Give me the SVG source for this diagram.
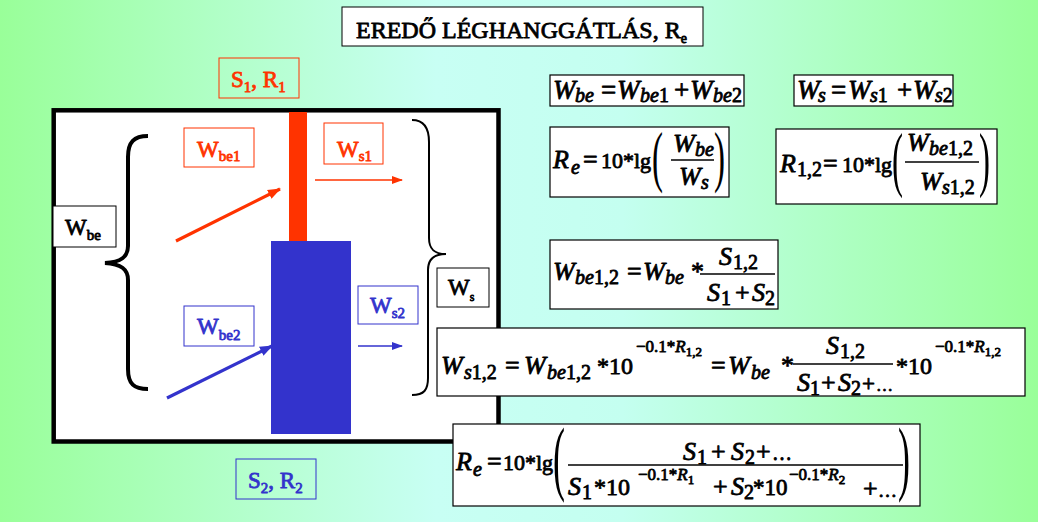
<svg xmlns="http://www.w3.org/2000/svg" width="1038" height="522" viewBox="0 0 1038 522">
<defs>
<linearGradient id="bg" x1="0" y1="0" x2="1" y2="0">
<stop offset="0" stop-color="#99ff99"/>
<stop offset="0.42" stop-color="#c8fff4"/>
<stop offset="0.6" stop-color="#c4fff0"/>
<stop offset="1" stop-color="#99ff99"/>
</linearGradient>
<marker id="ahR" markerUnits="userSpaceOnUse" markerWidth="14" markerHeight="12" refX="12" refY="5" orient="auto" viewBox="0 0 14 10"><path d="M0,0 L13,5 L0,10 Z" fill="#ff3300"/></marker>
<marker id="ahB" markerUnits="userSpaceOnUse" markerWidth="14" markerHeight="12" refX="12" refY="5" orient="auto" viewBox="0 0 14 10"><path d="M0,0 L13,5 L0,10 Z" fill="#3333cc"/></marker>
<marker id="ahRs" markerUnits="userSpaceOnUse" markerWidth="11" markerHeight="8" refX="10" refY="4" orient="auto" viewBox="0 0 11 8"><path d="M0,0 L11,4 L0,8 Z" fill="#ff3300"/></marker>
<marker id="ahBs" markerUnits="userSpaceOnUse" markerWidth="11" markerHeight="8" refX="10" refY="4" orient="auto" viewBox="0 0 11 8"><path d="M0,0 L11,4 L0,8 Z" fill="#3333cc"/></marker>
</defs>
<style>
text { font-family: 'Liberation Serif', 'Times New Roman', serif; font-weight: normal; fill: #000; stroke: #000; stroke-width: 0.8; stroke-linejoin: round; }
.i { font-style: italic; }
.m { font-size: 26px; }
.mm { font-size: 27px; }
.s { font-size: 20px; }
.ss { font-size: 13px; }
.sp { font-size: 17px; }
.fbox { fill: #ffffff; stroke: #000000; stroke-width: 1.2; }
.rbox { fill: none; stroke: #ff3300; stroke-width: 1; }
.bbox { fill: none; stroke: #3333cc; stroke-width: 1; }
.kbox { fill: #ffffff; stroke: #000000; stroke-width: 1; }
text.red { fill: #ff3300; stroke: #ff3300; }
text.blue { fill: #3333cc; stroke: #3333cc; }
.lbl { font-size: 23px; }
.lsub { font-size: 15px; }
.frac { stroke: #000; stroke-width: 1.4; }
text.par { font-size: 30px; stroke: none; }
</style>
<rect x="0" y="0" width="1038" height="522" fill="url(#bg)"/>

<g id="title">
<rect x="342" y="7" width="361" height="39" class="kbox" stroke-width="1.5"/>
<text x="356" y="38" font-size="24" stroke-width="0.8">EREDŐ LÉGHANGGÁTLÁS, R<tspan font-size="14" y="43">e</tspan></text>
</g>

<g id="frame">
<rect x="53.7" y="110.3" width="444.8" height="331.2" fill="#ffffff" stroke="#000000" stroke-width="4.5"/>
</g>

<g id="wall1"><rect x="289" y="112" width="18" height="129" fill="#ff3300"/></g>
<g id="wall2"><rect x="271" y="241" width="80" height="193" fill="#3333cc"/></g>

<g id="braces" fill="none" stroke="#000">
<path d="M148,136 C134,136 128,142 128,157 L128,246 C128,257 121,262 105,263 C121,264 128,269 128,280 L128,369 C128,384 134,389 148,389" stroke-width="4"/>
<path d="M412,120 C424,120 429,128 429,142 L429,238 C429,249 434,254 446,254 C434,254 428,259 428,270 L428,378 C428,390 424,395 412,395" stroke-width="2"/>
</g>

<g id="connectors" fill="none">
<line x1="176" y1="241" x2="280" y2="189" stroke="#ff3300" stroke-width="3.2" marker-end="url(#ahR)"/>
<line x1="315" y1="180" x2="402" y2="180" stroke="#ff3300" stroke-width="1.5" marker-end="url(#ahRs)"/>
<line x1="167" y1="398" x2="272" y2="346" stroke="#3333cc" stroke-width="3.2" marker-end="url(#ahB)"/>
<line x1="358" y1="346" x2="402" y2="346" stroke="#3333cc" stroke-width="1.5" marker-end="url(#ahBs)"/>
</g>

<g id="lbl-s1r1">
<rect x="219" y="58" width="80" height="40" class="rbox"/>
<text x="231" y="87" class="red lbl">S<tspan class="lsub" y="92">1</tspan><tspan y="87">, R</tspan><tspan class="lsub" y="92">1</tspan></text>
</g>
<g id="lbl-wbe1">
<rect x="184" y="128" width="70" height="39" class="rbox"/>
<text x="197" y="157" class="red lbl">W<tspan class="lsub" y="161">be1</tspan></text>
</g>
<g id="lbl-ws1">
<rect x="324" y="123" width="59" height="41" class="rbox"/>
<text x="337" y="157" class="red lbl">W<tspan class="lsub" y="161">s1</tspan></text>
</g>
<g id="lbl-wbe">
<rect x="53" y="206" width="63" height="41" class="kbox"/>
<text x="65" y="235" class="lbl">W<tspan class="lsub" y="240">be</tspan></text>
</g>
<g id="lbl-ws">
<rect x="437" y="268" width="52" height="39" class="kbox"/>
<text x="448" y="295" class="lbl">W<tspan font-size="12" y="301">s</tspan></text>
</g>
<g id="lbl-wbe2">
<rect x="184" y="306" width="70" height="40" class="bbox"/>
<text x="197" y="334" class="blue lbl">W<tspan class="lsub" y="340">be2</tspan></text>
</g>
<g id="lbl-ws2">
<rect x="358" y="286" width="60" height="38" class="bbox"/>
<text x="370" y="313" class="blue lbl">W<tspan class="lsub" y="318">s2</tspan></text>
</g>
<g id="lbl-s2r2">
<rect x="236" y="459" width="80" height="40" class="bbox"/>
<text x="248" y="488" class="blue lbl">S<tspan class="lsub" y="493">2</tspan><tspan y="488">, R</tspan><tspan class="lsub" y="493">2</tspan></text>
</g>

<g id="f1">
<rect x="550" y="75" width="194" height="31" class="fbox"/>
<text y="99" class="mm"><tspan x="553" class="i">W</tspan><tspan x="575" y="102" class="s i">be</tspan><tspan x="601" y="99">=</tspan><tspan x="617" class="i">W</tspan><tspan x="640" y="102" class="s i">be</tspan><tspan class="s">1</tspan><tspan x="674" y="99">+</tspan><tspan x="690" class="i">W</tspan><tspan x="713" y="102" class="s i">be</tspan><tspan class="s">2</tspan></text>
</g>
<g id="f2">
<rect x="794" y="75" width="159" height="31" class="fbox"/>
<text y="99" class="mm"><tspan x="797" class="i">W</tspan><tspan x="818" y="102" class="s i">s</tspan><tspan x="831" y="99">=</tspan><tspan x="848" class="i">W</tspan><tspan x="870" y="102" class="s i">s</tspan><tspan class="s">1</tspan><tspan x="897" y="99">+</tspan><tspan x="913" class="i">W</tspan><tspan x="935" y="102" class="s i">s</tspan><tspan class="s">2</tspan></text>
</g>
<g id="f3">
<rect x="550" y="127" width="179" height="70" class="fbox"/>
<text y="168" class="m"><tspan x="553" class="i">R</tspan><tspan x="571" y="174" class="s i">e</tspan><tspan x="583" y="168">=</tspan><tspan x="601" font-size="22">10*lg</tspan></text>
<text class="par" transform="translate(652,178.7) scale(1.1,2.24)">(</text>
<text class="par" transform="translate(714,178.7) scale(1.1,2.24)">)</text>
<text y="152" class="m"><tspan x="673" class="i">W</tspan><tspan x="695" y="156" class="s i">be</tspan></text>
<line x1="671" y1="160" x2="714" y2="160" class="frac"/>
<text y="185" class="m"><tspan x="679" class="i">W</tspan><tspan x="701" y="189" class="s i">s</tspan></text>
</g>
<g id="f4">
<rect x="776" y="129" width="221" height="75" class="fbox"/>
<text y="172" class="m"><tspan x="780" class="i">R</tspan><tspan x="797" y="176" class="s">1,2</tspan><tspan x="823" y="172">=</tspan><tspan x="842" font-size="22">10*lg</tspan></text>
<text class="par" transform="translate(892,182.5) scale(1.1,2.43)">(</text>
<text class="par" transform="translate(979,182.5) scale(1.1,2.43)">)</text>
<text y="151" class="m"><tspan x="907" class="i">W</tspan><tspan x="929" y="155" class="s i">be</tspan><tspan class="s">1,2</tspan></text>
<line x1="905" y1="162" x2="979" y2="162" class="frac"/>
<text y="190" class="m"><tspan x="920" class="i">W</tspan><tspan x="942" y="194" class="s i">s</tspan><tspan class="s">1,2</tspan></text>
</g>
<g id="f5">
<rect x="550" y="240" width="228" height="69" class="fbox"/>
<text y="280" class="m"><tspan x="553" class="i">W</tspan><tspan x="575" y="284" class="s i">be</tspan><tspan class="s">1,2</tspan><tspan x="627" y="280">=</tspan><tspan x="643" class="i">W</tspan><tspan x="665" y="284" class="s i">be</tspan><tspan x="691" y="280">*</tspan></text>
<text y="265" class="m"><tspan x="719" class="i">S</tspan><tspan x="733" y="269" class="s">1,2</tspan></text>
<line x1="700" y1="274" x2="775" y2="274" class="frac"/>
<text y="301" class="m"><tspan x="707" class="i">S</tspan><tspan x="721" y="305" class="s">1</tspan><tspan x="735" y="301">+</tspan><tspan x="752" class="i">S</tspan><tspan x="765" y="305" class="s">2</tspan></text>
</g>
<g id="f6">
<rect x="437" y="328" width="588" height="68" class="fbox"/>
<text y="374" class="m"><tspan x="441" class="i">W</tspan><tspan x="464" y="379" class="s i">s</tspan><tspan class="s">1,2</tspan><tspan x="505" y="374">=</tspan><tspan x="524" class="i">W</tspan><tspan x="547" y="379" class="s i">be</tspan><tspan class="s">1,2</tspan><tspan x="597" y="374" font-size="24">*10</tspan></text>
<text y="352" class="sp"><tspan x="636">−0.1*</tspan><tspan class="i">R</tspan><tspan class="ss" y="356">1,2</tspan></text>
<text y="374" class="m"><tspan x="711">=</tspan><tspan x="728" class="i">W</tspan><tspan x="751" y="379" class="s i">be</tspan><tspan x="781" y="374">*</tspan></text>
<text y="354" class="m"><tspan x="826" class="i">S</tspan><tspan x="840" y="358" class="s">1,2</tspan></text>
<line x1="793" y1="364" x2="893" y2="364" class="frac"/>
<text y="391" class="m"><tspan x="797" class="i">S</tspan><tspan x="810" y="395" class="s">1</tspan><tspan x="821" y="391">+</tspan><tspan x="838" class="i">S</tspan><tspan x="851" y="395" class="s">2</tspan><tspan x="862" y="391" font-size="23">+</tspan><tspan x="876" font-size="17">…</tspan></text>
<text y="374" class="m"><tspan x="896" font-size="24">*10</tspan></text>
<text y="352" class="sp"><tspan x="935">−0.1*</tspan><tspan class="i">R</tspan><tspan class="ss" y="356">1,2</tspan></text>
</g>
<g id="f7">
<rect x="453" y="424" width="467" height="82" class="fbox"/>
<text y="470" class="m"><tspan x="456" class="i">R</tspan><tspan x="473" y="476" class="s i">e</tspan><tspan x="487" y="470">=</tspan><tspan x="503" font-size="22">10*lg</tspan></text>
<text class="par" transform="translate(553,485.3) scale(1.2,2.76)">(</text>
<text class="par" transform="translate(898,485.3) scale(1.2,2.76)">)</text>
<text y="460" class="m"><tspan x="683" class="i">S</tspan><tspan x="697" y="464" class="s">1</tspan><tspan x="711" y="460">+</tspan><tspan x="731" class="i">S</tspan><tspan x="745" y="464" class="s">2</tspan><tspan x="756" y="460">+</tspan><tspan x="772" font-size="20">…</tspan></text>
<line x1="568" y1="465" x2="903" y2="465" class="frac"/>
<text y="495" class="m"><tspan x="568" class="i">S</tspan><tspan x="582" y="499" class="s">1</tspan><tspan x="594" y="495" font-size="24">*10</tspan></text>
<text y="480" class="sp"><tspan x="638">−0.1*</tspan><tspan class="i">R</tspan><tspan class="ss" y="484">1</tspan></text>
<text y="495" class="m"><tspan x="713">+</tspan><tspan x="731" class="i">S</tspan><tspan x="744" y="499" class="s">2</tspan><tspan x="753" y="495" font-size="23">*10</tspan></text>
<text y="480" class="sp"><tspan x="789">−0.1*</tspan><tspan class="i">R</tspan><tspan class="ss" y="484">2</tspan></text>
<text y="497" class="m"><tspan x="863">+</tspan><tspan x="878" font-size="19">…</tspan></text>
</g>
</svg>
